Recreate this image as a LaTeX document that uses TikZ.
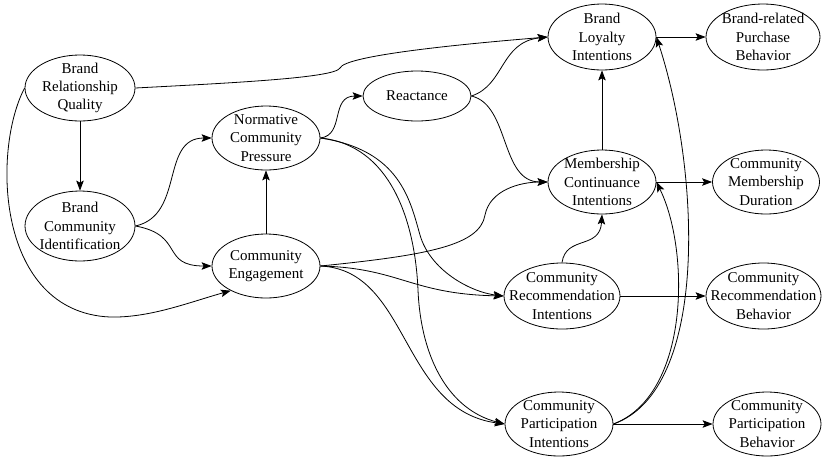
\documentclass[tikz,border=0pt]{standalone}
\usepackage{fontspec}
\setmainfont{Liberation Serif}
\usetikzlibrary{shapes.geometric,arrows.meta}
\begin{document}
\begin{tikzpicture}[x=1pt,y=-1pt,
  ell/.style={ellipse,draw,line width=0.8pt,inner sep=0pt,minimum width=108pt,minimum height=64pt},
  txt/.style={align=center,inner sep=0pt,font=\fontsize{15}{18.3}\selectfont},
  conn/.style={line width=0.8pt,-{Stealth[length=10pt,width=7.5pt,inset=2pt]}},
]
\useasboundingbox (0,0) rectangle (822,456);
% nodes
\node[ell,minimum width=110pt,minimum height=66pt] (brq) at (80,88) {};
\node[txt] (brqt) at (brq) {Brand\\Relationship\\Quality};
\node[ell,minimum width=110pt,minimum height=70pt] (bci) at (80,226) {};
\node[txt] (bcit) at (bci) {Brand\\Community\\Identification};
\node[ell] (ncp) at (266,138) {};
\node[txt] (ncpt) at (ncp) {Normative\\Community\\Pressure};
\node[ell] (ce) at (266,266) {};
\node[txt] (cet) at (ce) {Community\\Engagement};
\node[ell,minimum height=50pt] (rea) at (417,96) {};
\node[txt] (reat) at (rea) {Reactance};
\node[ell,minimum height=66pt] (bli) at (602,37) {};
\node[txt] (blit) at (bli) {Brand\\Loyalty\\Intentions};
\node[ell,minimum width=114pt,minimum height=66pt] (bpb) at (763,37) {};
\node[txt] (bpbt) at (bpb) {Brand-related\\Purchase\\Behavior};
\node[ell] (mci) at (602,182) {};
\node[txt] (mcit) at (mci) {Membership\\Continuance\\Intentions};
\node[ell,minimum width=107pt] (cmd) at (766,182) {};
\node[txt] (cmdt) at (cmd) {Community\\Membership\\Duration};
\node[ell,minimum width=116pt,minimum height=66pt] (cri) at (562,296) {};
\node[txt] (crit) at (cri) {Community\\Recommendation\\Intentions};
\node[ell,minimum width=115pt,minimum height=66pt] (crb) at (763.5,296) {};
\node[txt] (crbt) at (crb) {Community\\Recommendation\\Behavior};
\node[ell] (cpi) at (559,424) {};
\node[txt] (cpit) at (cpi) {Community\\Participation\\Intentions};
\node[ell] (cpb) at (767,424) {};
\node[txt] (cpbt) at (cpb) {Community\\Participation\\Behavior};
% connectors
\draw[conn] (brq.east) .. controls (230,83) and (335,78) .. (340,68) .. controls (345,56) and (450,45) .. (bli.west);
\draw[conn] (brq.south) -- (bci.north);
\draw[conn] (brq.west) .. controls (-8,150) and (-4,312) .. (110,317) .. controls (150,318) and (190,302) .. (ce.215);
\draw[conn] (bci.east) .. controls (185,215) and (160,138) .. (ncp.west);
\draw[conn] (bci.east) .. controls (185,235) and (160,266) .. (ce.west);
\draw[conn] (ce.north) -- (ncp.south);
\draw[conn] (ncp.east) .. controls (345,135) and (330,96) .. (rea.west);
\draw[conn] (ncp.east) .. controls (400,150) and (410,200) .. (420,235) .. controls (430,270) and (470,292) .. (cri.west);
\draw[conn] (ncp.east) .. controls (390,145) and (415,220) .. (418,290) .. controls (421,360) and (450,410) .. (cpi.west);
\draw[conn] (rea.east) .. controls (505,85) and (500,42) .. (bli.west);
\draw[conn] (rea.east) .. controls (510,105) and (500,182) .. (mci.west);
\draw[conn] (ce.east) .. controls (430,255) and (480,245) .. (485,215) .. controls (490,190) and (520,182) .. (mci.west);
\draw[conn] (ce.east) .. controls (400,268) and (410,294) .. (cri.west);
\draw[conn] (ce.east) .. controls (410,270) and (400,410) .. (cpi.west);
\draw[conn] (cri.north) .. controls (566,235) and (600,250) .. (mci.south);
\draw[conn] (mci.north) -- (bli.south);
\draw[conn] (cpi.east) .. controls (690,395) and (690,250) .. (mci.east);
\draw[conn] (cpi.east) .. controls (710,390) and (700,170) .. (bli.east);
\draw[conn] (bli.east) -- (bpb.west);
\draw[conn] (mci.east) -- (cmd.west);
\draw[conn] (cri.east) -- (crb.west);
\draw[conn] (cpi.east) -- (cpb.west);
\end{tikzpicture}
\end{document}
